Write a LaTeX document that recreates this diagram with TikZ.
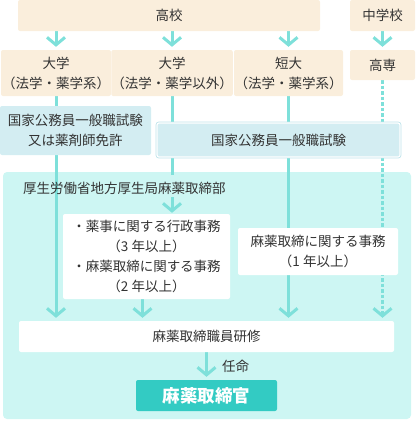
\documentclass[tikz,border=0pt]{standalone}
\usepackage{fontspec}
\setmainfont{Noto Sans CJK JP}
\usetikzlibrary{arrows.meta, positioning}
\definecolor{ink}{HTML}{333333}
\definecolor{beige}{HTML}{FAEEDC}
\definecolor{exam}{HTML}{D3EDF2}
\definecolor{examline}{HTML}{BEE3EA}
\definecolor{bureau}{HTML}{CDF6F3}
\definecolor{flowc}{HTML}{7EE0DA}
\definecolor{officer}{HTML}{33CBC3}
\pgfdeclarelayer{bg}
\pgfdeclarelayer{mid}
\pgfsetlayers{bg,mid,main}
\tikzset{
  font=\fontsize{13.5}{20}\selectfont,
  %
  box/.style={rounded corners=2pt, inner sep=0pt, align=center, text=ink},
  boxb/.style={box, fill=beige},
  boxe/.style={box, fill=exam},
  boxf/.style={boxe, draw=white, line width=1.2pt,
               preaction={draw=examline, line width=2.8pt}},
  boxw/.style={box, fill=white},
  boxo/.style={box, fill=officer, text=white,
               font=\fontsize{17.5}{20}\selectfont\bfseries},
  %
  flow/.style={draw=flowc, line width=3pt,
               -{Straight Barb[length=7.5pt, width=18pt]}, shorten >=3pt},
  flowline/.style={draw=flowc, line width=3pt},
  flowdash/.style={flow, dash pattern=on 3.3pt off 2.2pt},
  lbl/.style={text=ink, inner sep=3pt},
}
\begin{document}
\begin{tikzpicture}[x=1pt, y=-1pt]
  \useasboundingbox (0,0) rectangle (420,421);

  \node[boxb, minimum width=302pt, minimum height=31pt] (koko) at (169,15.5) {高校};
  \node[boxb, minimum width=65pt, minimum height=31pt] (chugaku) at (382.5,15.5) {中学校};

  \node[boxb, minimum width=110pt, minimum height=46pt] (dai1) at (56,73)
    {大学\\（法学・薬学系）};
  \node[boxb, minimum width=110pt, minimum height=46pt] (dai2) at (172,73)
    {大学\\（法学・薬学以外）};
  \node[boxb, minimum width=109pt, minimum height=46pt] (tandai) at (288.5,73)
    {短大\\（法学・薬学系）};
  \node[boxb, minimum width=65pt, minimum height=30pt] (kosen) at (382.5,65) {高専};

  \node[boxe, minimum width=151pt, minimum height=49pt] (exam1) at (75.5,130.5)
    {国家公務員一般職試験\\又は薬剤師免許};
  \node[boxf, minimum width=243pt, minimum height=34pt] (exam2) at (278.5,140)
    {国家公務員一般職試験};

  % bureau area sits behind everything
  \begin{pgfonlayer}{bg}
    \node[box, fill=bureau, rounded corners=4pt, minimum width=408pt,
          minimum height=247pt] (bureau) at (207,295.5) {};
  \end{pgfonlayer}
  \node[lbl, anchor=west] (bureautitle) at (20,188) {厚生労働省地方厚生局麻薬取締部};

  \node[boxw, minimum width=167pt, minimum height=85pt] (job1) at (146.5,256.5)
    {・薬事に関する行政事務\\（3 年以上）\\・麻薬取締に関する事務\\（2 年以上）};
  \node[boxw, minimum width=160pt, minimum height=47pt] (job2) at (318,251.5)
    {麻薬取締に関する事務\\（1 年以上）};

  \node[boxw, minimum width=375pt, minimum height=31pt] (training) at (206.5,336.5)
    {麻薬取締職員研修};
  \node[boxo, minimum width=141pt, minimum height=31pt] (officer) at (206.5,395.5)
    {麻薬取締官};

  % connectors run under the boxes
  \begin{pgfonlayer}{mid}
    \foreach \n in {dai1, dai2, tandai}
      \draw[flow] (koko.south -| \n) -- (\n.north);
    \draw[flow] (chugaku.south) -- (kosen.north);

    \draw[flow] (dai1.south) -- (training.north -| dai1);
    \draw[flow] (tandai.south) -- (training.north -| tandai);
    \draw[flowdash] (kosen.south) -- (training.north -| kosen);

    \draw[flowline] (dai2.south) -- ([yshift=-3pt]bureau.north -| dai2);
    \draw[flow, shorten >=1pt] (bureautitle.south -| dai2) -- (job1.north -| dai2);
    \draw[flow] ([xshift=-4pt]job1.south) -- ([xshift=-4pt]training.north -| job1);

    \draw[flow] (training.south) -- (officer.north)
      node[lbl, midway, right=11pt] {任命};
  \end{pgfonlayer}
\end{tikzpicture}
\end{document}
